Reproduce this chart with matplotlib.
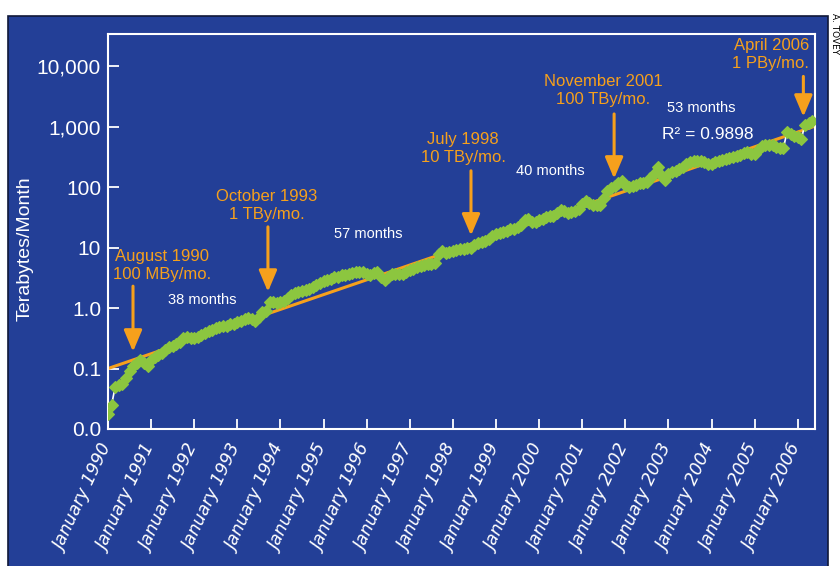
import matplotlib
matplotlib.use('Agg')
import numpy as np
from matplotlib import pyplot as plt
from matplotlib.patches import Rectangle

# Monthly traffic, terabytes per month (Jan 1990 .. May 2006)
traffic_tb = [
    # 1990
    0.018, 0.025, 0.05, 0.054, 0.056, 0.07, 0.09, 0.11, 0.125, 0.14, 0.125, 0.11,
    # 1991
    0.14, 0.155, 0.166, 0.178, 0.2, 0.224, 0.24, 0.257, 0.275, 0.316, 0.33, 0.324,
    # 1992
    0.324, 0.33, 0.355, 0.39, 0.417, 0.437, 0.468, 0.49, 0.5, 0.513, 0.537, 0.55,
    # 1993
    0.59, 0.62, 0.65, 0.68, 0.65, 0.6, 0.72, 0.85, 0.89, 1.26, 1.26, 1.23,
    # 1994
    1.26, 1.32, 1.45, 1.62, 1.74, 1.82, 1.9, 2.0, 2.1, 2.24, 2.4, 2.57,
    # 1995
    2.75, 2.88, 3.0, 3.24, 3.3, 3.47, 3.55, 3.7, 3.8, 3.9, 4.0, 3.9,
    # 1996
    3.6, 3.5, 3.8, 4.0, 3.2, 2.9, 3.3, 3.7, 3.7, 3.6, 3.7, 4.0,
    # 1997
    4.2, 4.5, 4.7, 4.9, 5.1, 5.25, 5.4, 5.5, 7.9, 8.9, 8.1, 8.3,
    # 1998
    8.7, 9.0, 9.3, 9.5, 9.8, 10.0, 11.0, 11.7, 12.3, 12.9, 13.8, 15.5,
    # 1999
    16.6, 17.4, 18.2, 19.0, 20.0, 20.4, 21.9, 23.4, 28.2, 29.5, 26.9, 26.9,
    # 2000
    28.8, 30.2, 31.6, 33.1, 33.9, 38.0, 41.7, 39.8, 38.0, 38.9, 40.7, 43.7,
    # 2001
    52.5, 60.0, 55.0, 50.0, 50.0, 50.0, 66.0, 85.0, 95.0, 105.0, 117.0, 126.0,
    # 2002
    110.0, 102.0, 105.0, 107.0, 117.0, 117.0, 123.0, 141.0, 166.0, 219.0, 158.0, 129.0,
    # 2003
    166.0, 178.0, 186.0, 200.0, 219.0, 240.0, 263.0, 269.0, 275.0, 275.0, 263.0, 245.0,
    # 2004
    245.0, 263.0, 275.0, 282.0, 295.0, 302.0, 309.0, 324.0, 339.0, 363.0, 380.0, 355.0,
    # 2005
    347.0, 417.0, 479.0, 501.0, 501.0, 490.0, 468.0, 447.0, 437.0, 813.0, 759.0, 708.0,
    # 2006
    661.0, 631.0, 1070.0, 1150.0, 1230.0,
]
months = 1990 + np.arange(len(traffic_tb)) / 12.0

# exponential trend line, end values
trend_years = [1990.0, 2006.4]
trend_values = [0.1, 1020.0]

year_ticks = list(range(1990, 2007))
year_labels = ['January %d' % y for y in year_ticks]
y_ticks = [0.01, 0.1, 1, 10, 100, 1000, 10000]
y_labels = ['0.0', '0.1', '1.0', '10', '100', '1,000', '10,000']

# milestones: (text, text year, text value, arrow year, arrow tail, arrow tip)
milestones = [
    ('August 1990\n100 MBy/mo.', 1991.25, 5.0, 1990.58, 2.3, 0.19),
    ('October 1993\n1 TBy/mo.', 1993.69, 49, 1993.71, 22, 1.86),
    ('July 1998\n10 TBy/mo.', 1998.24, 440, 1998.42, 186, 15.8),
    ('November 2001\n100 TBy/mo.', 2001.48, 3900, 2001.74, 1620, 138),
]
doubling = [('38 months', 1992.18, 1.38), ('57 months', 1996.03, 17),
            ('40 months', 2000.26, 186), ('53 months', 2003.76, 2000)]

BLUE = '#233f97'
ORANGE = '#f6a01c'
GREEN = '#8cc63f'

plt.rcParams['font.family'] = ['Liberation Sans', 'DejaVu Sans']

fig = plt.figure(figsize=(8.4, 5.66), dpi=100)
fig.patches.append(Rectangle((8 / 840, -0.01), 820 / 840, 0.99 - 10 / 566 + 0.01,
                             transform=fig.transFigure, facecolor=BLUE,
                             edgecolor='#101838', lw=1.2, zorder=-10))

ax = fig.add_axes([108 / 840, 137 / 566, 707 / 840, 395 / 566])
ax.set_zorder(1)
ax.set_facecolor(BLUE)
ax.set_yscale('log')
ax.set_xlim(1990, 2006.4)
ax.set_ylim(0.01, 3.4e4)

ax.plot(trend_years, trend_values, color=ORANGE, lw=2.2, zorder=2)
ax.plot(months, traffic_tb, color='white', lw=1.2, marker='D', ms=6,
        mfc=GREEN, mec=GREEN, mew=0.8, zorder=3)

for s in ax.spines.values():
    s.set_color('white')
    s.set_linewidth(1.5)

ax.set_yticks(y_ticks)
ax.set_yticklabels(y_labels)
ax.yaxis.set_minor_locator(matplotlib.ticker.NullLocator())
ax.tick_params(axis='y', direction='in', length=8, width=1.3, colors='white',
               labelsize=15, pad=5)
ax.set_xticks(year_ticks)
ax.set_xticklabels(year_labels, rotation=65, ha='right', va='center',
                   rotation_mode='anchor', family='DejaVu Sans', style='oblique')
ax.tick_params(axis='x', direction='in', length=7, width=1.3, colors='white',
               labelsize=12.5, pad=12)

fig.text(25 / 840, 1 - 249 / 566, 'Terabytes/Month', rotation=90, color='white',
         fontsize=14, ha='center', va='center')

arrow = dict(arrowstyle='-|>,head_length=1.3,head_width=0.55', color=ORANGE,
             lw=2.2, mutation_scale=10, shrinkA=0, shrinkB=0)
for text, tx, ty, ax_year, tail, tip in milestones:
    ax.text(tx, ty, text, color=ORANGE, fontsize=12, ha='center', va='center',
            linespacing=1.25)
    ax.annotate('', xy=(ax_year, tip), xytext=(ax_year, tail), arrowprops=arrow)

ax.text(2006.26, 15800, 'April 2006\n1 PBy/mo.', color=ORANGE, fontsize=12,
        ha='right', va='center', linespacing=1.25)
ax.annotate('', xy=(2006.13, 1460), xytext=(2006.13, 6760), arrowprops=arrow)

for text, tx, ty in doubling:
    ax.text(tx, ty, text, color='white', fontsize=10.5, ha='center', va='center')
ax.text(2003.92, 740, 'R² = 0.9898', color='white', fontsize=12.5,
        ha='center', va='center')

fig.text(834 / 840, 1 - 34 / 566, 'A. TOVEY', rotation=270, fontsize=6.5,
         color='black', ha='center', va='center', family='DejaVu Sans')

fig.savefig('out.png', dpi=100, facecolor='white')
